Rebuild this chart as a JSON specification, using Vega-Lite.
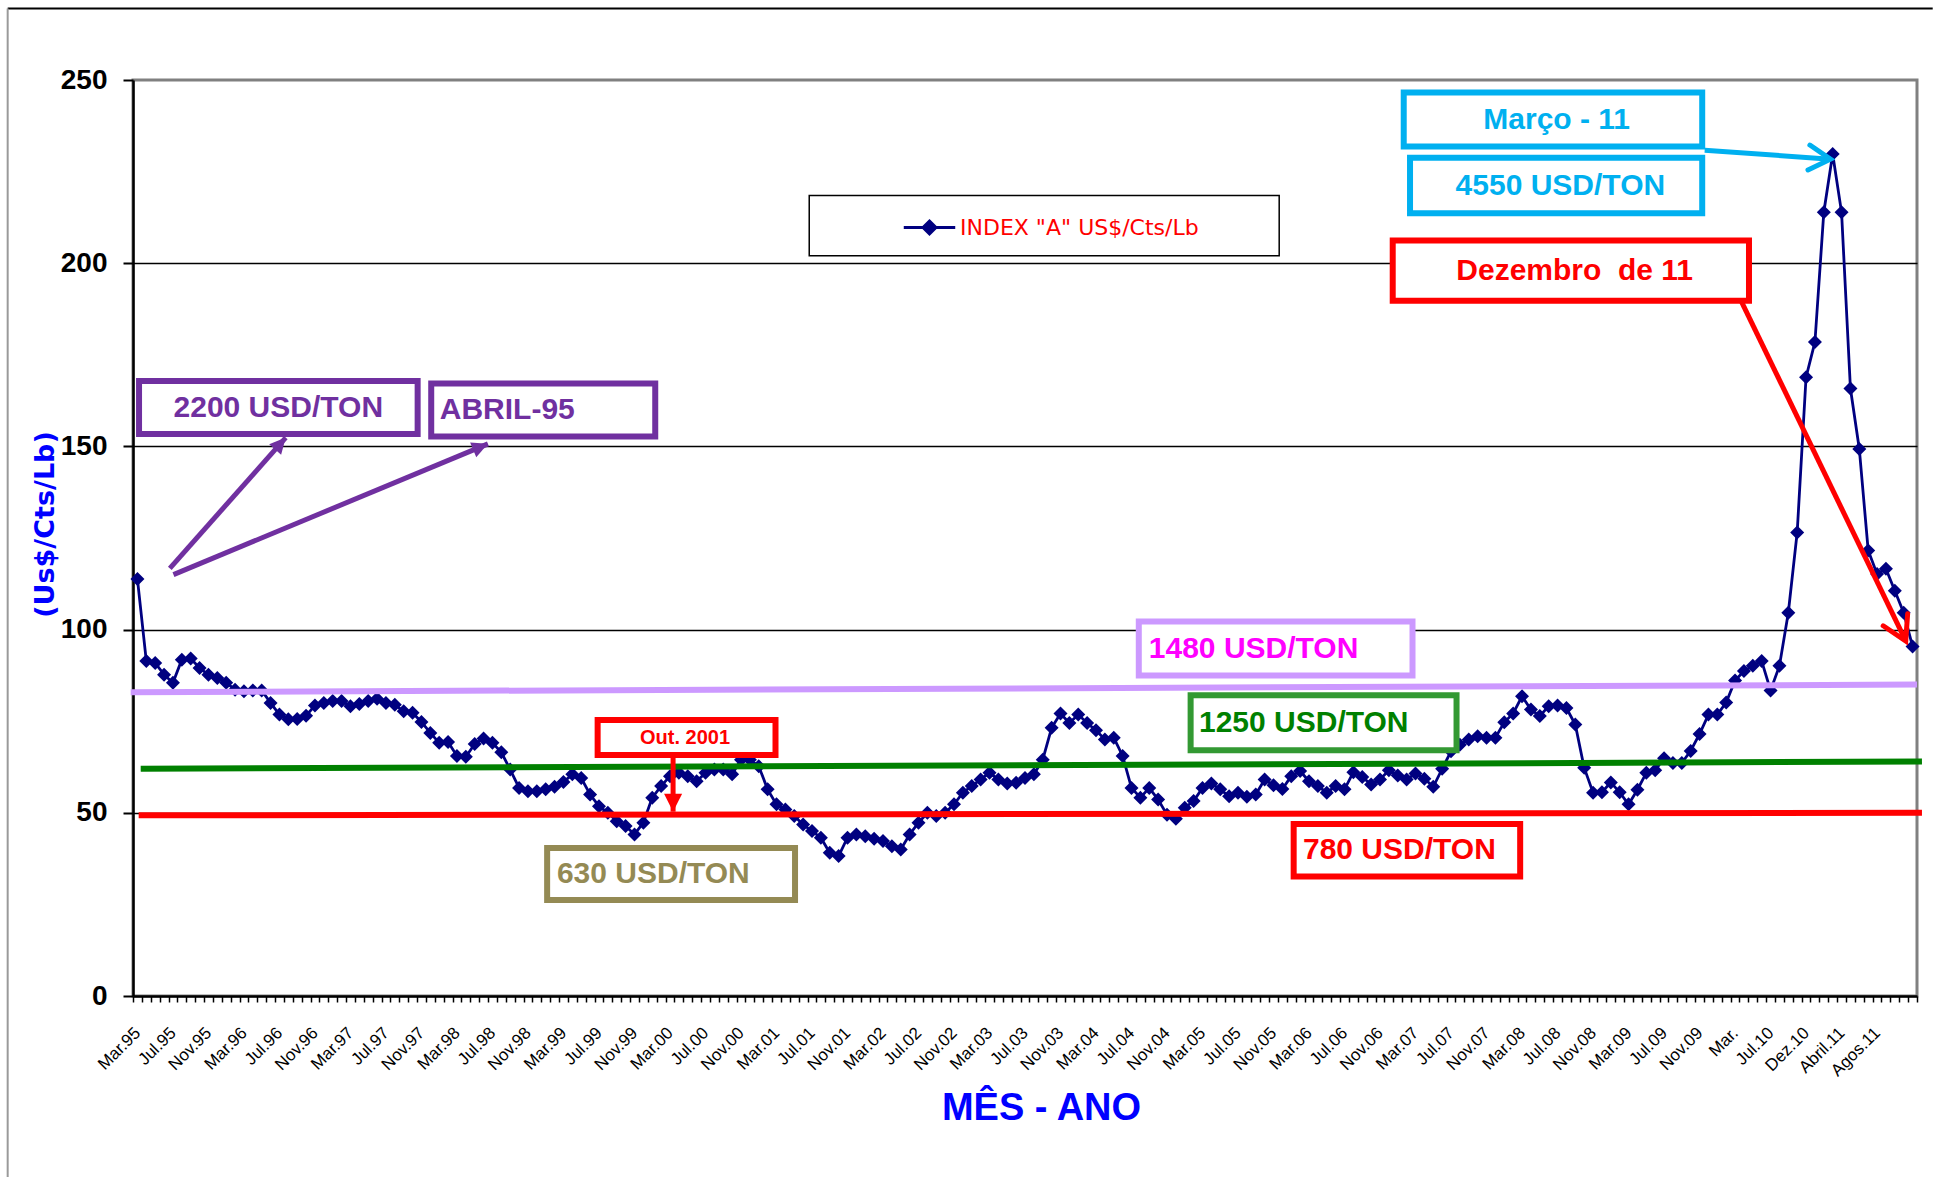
{
  "$schema": "https://vega.github.io/schema/vega-lite/v6.json",
  "width": 1784,
  "height": 916,
  "autosize": "none",
  "padding": {"left": 133, "top": 80, "right": 16, "bottom": 181},
  "background": "white",
  "config": {
    "view": {"stroke": "#808080", "strokeWidth": 3},
    "font": "Liberation Sans"
  },
  "datasets": {
    "algodao": [
      {"i":0,"mes":"Mar.95","v":113.8},{"i":1,"mes":"Abr.95","v":91.4},{"i":2,"mes":"Mai.95","v":90.9},{"i":3,"mes":"Jun.95","v":87.7},
      {"i":4,"mes":"Jul.95","v":85.5},{"i":5,"mes":"Ago.95","v":91.8},{"i":6,"mes":"Set.95","v":92.1},{"i":7,"mes":"Out.95","v":89.5},
      {"i":8,"mes":"Nov.95","v":87.7},{"i":9,"mes":"Dez.95","v":86.8},{"i":10,"mes":"Jan.96","v":85.5},{"i":11,"mes":"Fev.96","v":83.6},
      {"i":12,"mes":"Mar.96","v":83.2},{"i":13,"mes":"Abr.96","v":83.4},{"i":14,"mes":"Mai.96","v":83.4},{"i":15,"mes":"Jun.96","v":80.0},
      {"i":16,"mes":"Jul.96","v":76.8},{"i":17,"mes":"Ago.96","v":75.5},{"i":18,"mes":"Set.96","v":75.6},{"i":19,"mes":"Out.96","v":76.5},
      {"i":20,"mes":"Nov.96","v":79.3},{"i":21,"mes":"Dez.96","v":80.0},{"i":22,"mes":"Jan.97","v":80.5},{"i":23,"mes":"Fev.97","v":80.5},
      {"i":24,"mes":"Mar.97","v":79.1},{"i":25,"mes":"Abr.97","v":79.7},{"i":26,"mes":"Mai.97","v":80.5},{"i":27,"mes":"Jun.97","v":81.1},
      {"i":28,"mes":"Jul.97","v":80.0},{"i":29,"mes":"Ago.97","v":79.5},{"i":30,"mes":"Set.97","v":77.7},{"i":31,"mes":"Out.97","v":77.3},
      {"i":32,"mes":"Nov.97","v":74.8},{"i":33,"mes":"Dez.97","v":71.8},{"i":34,"mes":"Jan.98","v":69.1},{"i":35,"mes":"Fev.98","v":69.3},
      {"i":36,"mes":"Mar.98","v":65.5},{"i":37,"mes":"Abr.98","v":65.3},{"i":38,"mes":"Mai.98","v":68.8},{"i":39,"mes":"Jun.98","v":70.3},
      {"i":40,"mes":"Jul.98","v":69.1},{"i":41,"mes":"Ago.98","v":66.5},{"i":42,"mes":"Set.98","v":61.8},{"i":43,"mes":"Out.98","v":56.8},
      {"i":44,"mes":"Nov.98","v":55.9},{"i":45,"mes":"Dez.98","v":55.9},{"i":46,"mes":"Jan.99","v":56.4},{"i":47,"mes":"Fev.99","v":57.1},
      {"i":48,"mes":"Mar.99","v":58.4},{"i":49,"mes":"Abr.99","v":60.5},{"i":50,"mes":"Mai.99","v":59.5},{"i":51,"mes":"Jun.99","v":55.0},
      {"i":52,"mes":"Jul.99","v":51.8},{"i":53,"mes":"Ago.99","v":50.0},{"i":54,"mes":"Set.99","v":47.7},{"i":55,"mes":"Out.99","v":46.4},
      {"i":56,"mes":"Nov.99","v":44.1},{"i":57,"mes":"Dez.99","v":47.3},{"i":58,"mes":"Jan.00","v":54.1},{"i":59,"mes":"Fev.00","v":57.3},
      {"i":60,"mes":"Mar.00","v":60.0},{"i":61,"mes":"Abr.00","v":60.9},{"i":62,"mes":"Mai.00","v":60.0},{"i":63,"mes":"Jun.00","v":58.6},
      {"i":64,"mes":"Jul.00","v":60.9},{"i":65,"mes":"Ago.00","v":61.8},{"i":66,"mes":"Set.00","v":61.8},{"i":67,"mes":"Out.00","v":60.5},
      {"i":68,"mes":"Nov.00","v":64.5},{"i":69,"mes":"Dez.00","v":64.5},{"i":70,"mes":"Jan.01","v":62.7},{"i":71,"mes":"Fev.01","v":56.4},
      {"i":72,"mes":"Mar.01","v":52.3},{"i":73,"mes":"Abr.01","v":50.9},{"i":74,"mes":"Mai.01","v":49.1},{"i":75,"mes":"Jun.01","v":46.8},
      {"i":76,"mes":"Jul.01","v":45.0},{"i":77,"mes":"Ago.01","v":43.2},{"i":78,"mes":"Set.01","v":39.1},{"i":79,"mes":"Out.01","v":38.2},
      {"i":80,"mes":"Nov.01","v":43.2},{"i":81,"mes":"Dez.01","v":44.1},{"i":82,"mes":"Jan.02","v":43.6},{"i":83,"mes":"Fev.02","v":42.9},
      {"i":84,"mes":"Mar.02","v":42.3},{"i":85,"mes":"Abr.02","v":40.9},{"i":86,"mes":"Mai.02","v":40.0},{"i":87,"mes":"Jun.02","v":44.1},
      {"i":88,"mes":"Jul.02","v":47.3},{"i":89,"mes":"Ago.02","v":50.0},{"i":90,"mes":"Set.02","v":49.1},{"i":91,"mes":"Out.02","v":50.0},
      {"i":92,"mes":"Nov.02","v":52.3},{"i":93,"mes":"Dez.02","v":55.5},{"i":94,"mes":"Jan.03","v":57.3},{"i":95,"mes":"Fev.03","v":59.1},
      {"i":96,"mes":"Mar.03","v":60.9},{"i":97,"mes":"Abr.03","v":59.1},{"i":98,"mes":"Mai.03","v":58.0},{"i":99,"mes":"Jun.03","v":58.2},
      {"i":100,"mes":"Jul.03","v":59.5},{"i":101,"mes":"Ago.03","v":60.5},{"i":102,"mes":"Set.03","v":64.5},{"i":103,"mes":"Out.03","v":73.2},
      {"i":104,"mes":"Nov.03","v":77.1},{"i":105,"mes":"Dez.03","v":74.5},{"i":106,"mes":"Jan.04","v":76.8},{"i":107,"mes":"Fev.04","v":74.5},
      {"i":108,"mes":"Mar.04","v":72.5},{"i":109,"mes":"Abr.04","v":70.0},{"i":110,"mes":"Mai.04","v":70.5},{"i":111,"mes":"Jun.04","v":65.5},
      {"i":112,"mes":"Jul.04","v":56.8},{"i":113,"mes":"Ago.04","v":54.1},{"i":114,"mes":"Set.04","v":56.8},{"i":115,"mes":"Out.04","v":53.6},
      {"i":116,"mes":"Nov.04","v":49.5},{"i":117,"mes":"Dez.04","v":48.4},{"i":118,"mes":"Jan.05","v":51.4},{"i":119,"mes":"Fev.05","v":53.2},
      {"i":120,"mes":"Mar.05","v":56.8},{"i":121,"mes":"Abr.05","v":58.0},{"i":122,"mes":"Mai.05","v":56.4},{"i":123,"mes":"Jun.05","v":54.5},
      {"i":124,"mes":"Jul.05","v":55.5},{"i":125,"mes":"Ago.05","v":54.4},{"i":126,"mes":"Set.05","v":55.0},{"i":127,"mes":"Out.05","v":59.1},
      {"i":128,"mes":"Nov.05","v":57.5},{"i":129,"mes":"Dez.05","v":56.5},{"i":130,"mes":"Jan.06","v":60.0},{"i":131,"mes":"Fev.06","v":61.4},
      {"i":132,"mes":"Mar.06","v":58.6},{"i":133,"mes":"Abr.06","v":57.3},{"i":134,"mes":"Mai.06","v":55.5},{"i":135,"mes":"Jun.06","v":57.3},
      {"i":136,"mes":"Jul.06","v":56.4},{"i":137,"mes":"Ago.06","v":61.1},{"i":138,"mes":"Set.06","v":59.8},{"i":139,"mes":"Out.06","v":57.7},
      {"i":140,"mes":"Nov.06","v":59.1},{"i":141,"mes":"Dez.06","v":61.6},{"i":142,"mes":"Jan.07","v":60.2},{"i":143,"mes":"Fev.07","v":59.1},
      {"i":144,"mes":"Mar.07","v":60.7},{"i":145,"mes":"Abr.07","v":59.3},{"i":146,"mes":"Mai.07","v":57.1},{"i":147,"mes":"Jun.07","v":62.0},
      {"i":148,"mes":"Jul.07","v":66.8},{"i":149,"mes":"Ago.07","v":68.6},{"i":150,"mes":"Set.07","v":70.0},{"i":151,"mes":"Out.07","v":70.9},
      {"i":152,"mes":"Nov.07","v":70.5},{"i":153,"mes":"Dez.07","v":70.5},{"i":154,"mes":"Jan.08","v":74.7},{"i":155,"mes":"Fev.08","v":77.1},
      {"i":156,"mes":"Mar.08","v":81.8},{"i":157,"mes":"Abr.08","v":78.2},{"i":158,"mes":"Mai.08","v":76.4},{"i":159,"mes":"Jun.08","v":79.1},
      {"i":160,"mes":"Jul.08","v":79.3},{"i":161,"mes":"Ago.08","v":78.6},{"i":162,"mes":"Set.08","v":74.1},{"i":163,"mes":"Out.08","v":62.3},
      {"i":164,"mes":"Nov.08","v":55.5},{"i":165,"mes":"Dez.08","v":55.6},{"i":166,"mes":"Jan.09","v":58.3},{"i":167,"mes":"Fev.09","v":55.6},
      {"i":168,"mes":"Mar.09","v":52.3},{"i":169,"mes":"Abr.09","v":56.3},{"i":170,"mes":"Mai.09","v":60.9},{"i":171,"mes":"Jun.09","v":61.6},
      {"i":172,"mes":"Jul.09","v":64.9},{"i":173,"mes":"Ago.09","v":63.6},{"i":174,"mes":"Set.09","v":63.6},{"i":175,"mes":"Out.09","v":66.9},
      {"i":176,"mes":"Nov.09","v":71.5},{"i":177,"mes":"Dez.09","v":76.8},{"i":178,"mes":"Jan.10","v":76.8},{"i":179,"mes":"Fev.10","v":80.1},
      {"i":180,"mes":"Mar.10","v":86.1},{"i":181,"mes":"Abr.10","v":88.7},{"i":182,"mes":"Mai.10","v":90.1},{"i":183,"mes":"Jun.10","v":91.4},
      {"i":184,"mes":"Jul.10","v":83.4},{"i":185,"mes":"Ago.10","v":90.1},{"i":186,"mes":"Set.10","v":104.6},{"i":187,"mes":"Out.10","v":126.5},
      {"i":188,"mes":"Dez.10","v":168.9},{"i":189,"mes":"Jan.11","v":178.5},{"i":190,"mes":"Fev.11","v":213.9},{"i":191,"mes":"Mar.11","v":229.8},
      {"i":192,"mes":"Abr.11","v":213.9},{"i":193,"mes":"Mai.11","v":165.8},{"i":194,"mes":"Jun.11","v":149.3},{"i":195,"mes":"Jul.11","v":121.6},
      {"i":196,"mes":"Ago.11","v":115.2},{"i":197,"mes":"Set.11","v":116.6},{"i":198,"mes":"Out.11","v":110.6},{"i":199,"mes":"Nov.11","v":104.6},
      {"i":200,"mes":"Dez.11","v":95.4}
    ],
    "niveis": [
      {"nivel":"1480 USD/TON","x0":-0.76,"x1":200.5,"y0":82.9,"y1":85.0},
      {"nivel":"1250 USD/TON","x0":0.37,"x1":201.06,"y0":62.0,"y1":64.0},
      {"nivel":"780 USD/TON","x0":0.14,"x1":201.06,"y0":49.3,"y1":50.0}
    ],
    "caixas": [
      {"cor":"roxo","x0":0.18,"x1":31.57,"y0":167.85,"y1":153.38},
      {"cor":"roxo","x0":33.1,"x1":58.34,"y0":167.17,"y1":152.7},
      {"cor":"ciano","x0":142.67,"x1":176.3,"y0":246.6,"y1":231.85},
      {"cor":"ciano","x0":143.38,"x1":176.3,"y0":228.77,"y1":213.65},
      {"cor":"vermelho","x0":141.43,"x1":181.57,"y0":206.2,"y1":189.74},
      {"cor":"lilas","x0":112.82,"x1":143.66,"y0":102.24,"y1":87.47},
      {"cor":"verde","x0":118.66,"x1":148.62,"y0":82.1,"y1":67.09},
      {"cor":"vermelho","x0":130.27,"x1":155.79,"y0":46.94,"y1":32.61},
      {"cor":"oliva","x0":46.16,"x1":74.09,"y0":40.39,"y1":26.2},
      {"cor":"vermelho","x0":51.85,"x1":71.89,"y0":75.33,"y1":65.78}
    ],
    "textos_centro": [
      {"txt":"2200 USD/TON","cor":"roxo","x":15.87,"y":160.6},
      {"txt":"Março - 11","cor":"ciano","x":159.9,"y":239.2},
      {"txt":"4550 USD/TON","cor":"ciano","x":160.32,"y":221.2},
      {"txt":"Dezembro\u00a0\u00a0de 11","cor":"vermelho","x":161.93,"y":198.0}
    ],
    "textos_esquerda": [
      {"txt":"ABRIL-95","cor":"roxo","x":34.06,"y":159.93},
      {"txt":"1480 USD/TON","cor":"lilas","x":113.95,"y":94.84},
      {"txt":"1250 USD/TON","cor":"verde","x":119.6,"y":74.6},
      {"txt":"780 USD/TON","cor":"vermelho","x":131.32,"y":39.85},
      {"txt":"630 USD/TON","cor":"oliva","x":47.26,"y":33.3}
    ],
    "setas": [
      {"cor":"roxo","x0":3.65,"x1":16.71,"y0":116.7,"y1":152.4},
      {"cor":"roxo","x0":4.06,"x1":39.49,"y0":115.0,"y1":150.7},
      {"cor":"ciano","x0":176.58,"x1":190.75,"y0":230.8,"y1":228.4},
      {"cor":"vermelho","x0":180.75,"x1":199.23,"y0":189.4,"y1":96.9},
      {"cor":"vermelho","x0":60.35,"x1":60.35,"y0":65.3,"y1":50.3}
    ]
  },
  "layer": [
    {
      "data": {"name": "algodao"},
      "mark": {"type": "line", "strokeWidth": 2.8,
        "point": {"shape": "diamond", "size": 196, "filled": true, "opacity": 1}},
      "encoding": {
        "x": {"field": "i", "type": "quantitative",
          "scale": {"domain": [-0.5, 200.5], "nice": false, "zero": false},
          "axis": {
            "values": [-0.5,0.5,1.5,2.5,3.5,4.5,5.5,6.5,7.5,8.5,9.5,10.5,11.5,12.5,13.5,14.5,15.5,16.5,17.5,18.5,19.5,20.5,21.5,22.5,23.5,24.5,25.5,26.5,27.5,28.5,29.5,30.5,31.5,32.5,33.5,34.5,35.5,36.5,37.5,38.5,39.5,40.5,41.5,42.5,43.5,44.5,45.5,46.5,47.5,48.5,49.5,50.5,51.5,52.5,53.5,54.5,55.5,56.5,57.5,58.5,59.5,60.5,61.5,62.5,63.5,64.5,65.5,66.5,67.5,68.5,69.5,70.5,71.5,72.5,73.5,74.5,75.5,76.5,77.5,78.5,79.5,80.5,81.5,82.5,83.5,84.5,85.5,86.5,87.5,88.5,89.5,90.5,91.5,92.5,93.5,94.5,95.5,96.5,97.5,98.5,99.5,100.5,101.5,102.5,103.5,104.5,105.5,106.5,107.5,108.5,109.5,110.5,111.5,112.5,113.5,114.5,115.5,116.5,117.5,118.5,119.5,120.5,121.5,122.5,123.5,124.5,125.5,126.5,127.5,128.5,129.5,130.5,131.5,132.5,133.5,134.5,135.5,136.5,137.5,138.5,139.5,140.5,141.5,142.5,143.5,144.5,145.5,146.5,147.5,148.5,149.5,150.5,151.5,152.5,153.5,154.5,155.5,156.5,157.5,158.5,159.5,160.5,161.5,162.5,163.5,164.5,165.5,166.5,167.5,168.5,169.5,170.5,171.5,172.5,173.5,174.5,175.5,176.5,177.5,178.5,179.5,180.5,181.5,182.5,183.5,184.5,185.5,186.5,187.5,188.5,189.5,190.5,191.5,192.5,193.5,194.5,195.5,196.5,197.5,198.5,199.5,200.5,
              0,4,8,12,16,20,24,28,32,36,40,44,48,52,56,60,64,68,72,76,80,84,88,92,96,100,104,108,112,116,120,124,128,132,136,140,144,148,152,156,160,164,168,172,176,180,184,188,192,196],
            "tickCount": 400,
            "labelExpr": "datum.value % 4 == 0 ? ['Mar.95','Jul.95','Nov.95','Mar.96','Jul.96','Nov.96','Mar.97','Jul.97','Nov.97','Mar.98','Jul.98','Nov.98','Mar.99','Jul.99','Nov.99','Mar.00','Jul.00','Nov.00','Mar.01','Jul.01','Nov.01','Mar.02','Jul.02','Nov.02','Mar.03','Jul.03','Nov.03','Mar.04','Jul.04','Nov.04','Mar.05','Jul.05','Nov.05','Mar.06','Jul.06','Nov.06','Mar.07','Jul.07','Nov.07','Mar.08','Jul.08','Nov.08','Mar.09','Jul.09','Nov.09','Mar.','Jul.10','Dez.10','Abril.11','Agos.11'][datum.value / 4] : ''",
            "labelAngle": -45,
            "labelAlign": "right",
            "labelBaseline": "middle",
            "labelPadding": 28,
            "labelFont": "Liberation Sans",
            "labelFontSize": 17,
            "labelColor": "#000000",
            "labelOverlap": false,
            "labelFlush": false,
            "labelBound": false,
            "tickSize": 6,
            "tickWidth": 1.5,
            "tickColor": "#000000",
            "tickOpacity": {"condition": {"test": "datum.value % 4 == 0", "value": 0}, "value": 1},
            "domainColor": "#000000",
            "domainWidth": 2.5,
            "grid": false,
            "title": "MÊS - ANO",
            "titleFont": "Liberation Sans",
            "titleFontSize": 38,
            "titleFontWeight": "bold",
            "titleColor": "#0000FF",
            "titleX": 908,
            "titleY": 123,
            "titleAlign": "center",
            "titleBaseline": "alphabetic"
          }
        },
        "y": {"field": "v", "type": "quantitative",
          "scale": {"domain": [0, 250], "nice": false},
          "axis": {
            "values": [0, 50, 100, 150, 200, 250],
            "labelFont": "Liberation Sans",
            "labelFontSize": 28,
            "labelFontWeight": "bold",
            "labelColor": "#000000",
            "labelPadding": 16,
            "tickSize": 10,
            "tickWidth": 2,
            "tickColor": "#000000",
            "domainColor": "#000000",
            "domainWidth": 2.5,
            "grid": true,
            "gridColor": {"condition": {"test": "datum.value == 0 || datum.value == 250", "value": "transparent"}, "value": "#000000"},
            "gridWidth": 1.5,
            "title": "(Us$/Cts/Lb)",
            "titleFont": "Comic Sans MS, DejaVu Sans",
            "titleFontSize": 27,
            "titleFontWeight": "bold",
            "titleColor": "#0000FF",
            "titleAngle": -90,
            "titleX": -88,
            "titleY": 444,
            "titleAlign": "center",
            "titleBaseline": "middle"
          }
        },
        "color": {
          "datum": "INDEX \"A\" US$/Cts/Lb",
          "scale": {"range": ["#000080"]},
          "legend": {
            "orient": "none",
            "legendX": 769,
            "legendY": 120,
            "title": null,
            "padding": 0,
            "symbolType": "M-1,0L1,0M0,-0.25L0.25,0L0,0.25L-0.25,0Z",
            "symbolSize": 2650,
            "symbolStrokeWidth": 3,
            "symbolFillColor": "#000080",
            "symbolStrokeColor": "#000080",
            "labelColor": "#FF0000",
            "labelFont": "Comic Sans MS, DejaVu Sans",
            "labelFontSize": 22,
            "labelOffset": 3,
            "labelLimit": 400,
            "encode": {"symbols": {"update": {"fill": {"value": "#000080"}, "stroke": {"value": "#000080"}, "opacity": {"value": 1}}}}
          }
        }
      }
    },
    {
      "description": "outer frame of the chart object",
      "data": {"values": [
        {"lado":"topo","x0":-14.62,"x1":202.27,"y0":269.5,"y1":269.5},
        {"lado":"esquerda","x0":-14.62,"x1":-14.62,"y0":269.5,"y1":-49.4}
      ]},
      "mark": {"type": "rule", "strokeWidth": 2},
      "encoding": {
        "x": {"field": "x0", "type": "quantitative"},
        "x2": {"field": "x1"},
        "y": {"field": "y0", "type": "quantitative"},
        "y2": {"field": "y1"},
        "stroke": {"field": "lado", "type": "nominal", "legend": null,
          "scale": {"domain": ["topo", "esquerda"], "range": ["#000000", "#9a9a9a"]}}
      }
    },
    {
      "data": {"name": "niveis"},
      "mark": {"type": "rule", "strokeWidth": 6, "strokeCap": "butt"},
      "encoding": {
        "x": {"field": "x0", "type": "quantitative"},
        "x2": {"field": "x1"},
        "y": {"field": "y0", "type": "quantitative"},
        "y2": {"field": "y1"},
        "stroke": {"field": "nivel", "type": "nominal", "legend": null,
          "scale": {"domain": ["1480 USD/TON", "1250 USD/TON", "780 USD/TON"], "range": ["#CC99FF", "#008000", "#FF0000"]}}
      }
    },
    {
      "data": {"name": "caixas"},
      "mark": {"type": "rect", "fill": "#FFFFFF", "strokeWidth": 6, "strokeJoin": "miter"},
      "encoding": {
        "x": {"field": "x0", "type": "quantitative"},
        "x2": {"field": "x1"},
        "y": {"field": "y0", "type": "quantitative"},
        "y2": {"field": "y1"},
        "stroke": {"field": "cor", "type": "nominal", "legend": null,
          "scale": {"domain": ["roxo", "ciano", "vermelho", "lilas", "verde", "oliva"], "range": ["#7030A0", "#00B0F0", "#FF0000", "#CC99FF", "#339933", "#948A54"]}}
      }
    },
    {
      "description": "frame around the series legend",
      "data": {"values": [{"x0": 75.69, "x1": 128.64, "y0": 218.48, "y1": 202.02}]},
      "mark": {"type": "rect", "fill": "#FFFFFF", "stroke": "#000000", "strokeWidth": 1.5},
      "encoding": {
        "x": {"field": "x0", "type": "quantitative"},
        "x2": {"field": "x1"},
        "y": {"field": "y0", "type": "quantitative"},
        "y2": {"field": "y1"}
      }
    },
    {
      "data": {"name": "textos_centro"},
      "mark": {"type": "text", "align": "center", "baseline": "middle", "font": "Liberation Sans", "fontSize": 30, "fontWeight": "bold"},
      "encoding": {
        "x": {"field": "x", "type": "quantitative"},
        "y": {"field": "y", "type": "quantitative"},
        "text": {"field": "txt"},
        "fill": {"field": "cor", "type": "nominal", "legend": null,
          "scale": {"domain": ["roxo", "ciano", "vermelho", "lilas", "verde", "oliva"], "range": ["#7030A0", "#00B0F0", "#FF0000", "#FF00FF", "#008000", "#948A54"]}}
      }
    },
    {
      "data": {"name": "textos_esquerda"},
      "mark": {"type": "text", "align": "left", "baseline": "middle", "font": "Liberation Sans", "fontSize": 30, "fontWeight": "bold"},
      "encoding": {
        "x": {"field": "x", "type": "quantitative"},
        "y": {"field": "y", "type": "quantitative"},
        "text": {"field": "txt"},
        "fill": {"field": "cor", "type": "nominal", "legend": null,
          "scale": {"domain": ["roxo", "ciano", "vermelho", "lilas", "verde", "oliva"], "range": ["#7030A0", "#00B0F0", "#FF0000", "#FF00FF", "#008000", "#948A54"]}}
      }
    },
    {
      "data": {"values": [{"txt": "Out. 2001", "x": 61.7, "y": 70.4}]},
      "mark": {"type": "text", "align": "center", "baseline": "middle", "font": "Liberation Sans", "fontSize": 20, "fontWeight": "bold", "color": "#FF0000"},
      "encoding": {
        "x": {"field": "x", "type": "quantitative"},
        "y": {"field": "y", "type": "quantitative"},
        "text": {"field": "txt"}
      }
    },
    {
      "data": {"name": "setas"},
      "mark": {"type": "rule", "strokeWidth": 5, "strokeCap": "butt"},
      "encoding": {
        "x": {"field": "x0", "type": "quantitative"},
        "x2": {"field": "x1"},
        "y": {"field": "y0", "type": "quantitative"},
        "y2": {"field": "y1"},
        "stroke": {"field": "cor", "type": "nominal", "legend": null,
          "scale": {"domain": ["roxo", "ciano", "vermelho"], "range": ["#7030A0", "#00B0F0", "#FF0000"]}}
      }
    },
    {
      "data": {"values": [{"x": 16.71, "y": 152.4}]},
      "mark": {"type": "point", "shape": "M0,0L0.55,1.1L-0.55,1.1Z", "size": 841, "angle": 41.6, "filled": true, "color": "#7030A0", "opacity": 1},
      "encoding": {
        "x": {"field": "x", "type": "quantitative"},
        "y": {"field": "y", "type": "quantitative"}
      }
    },
    {
      "data": {"values": [{"x": 39.49, "y": 150.7}]},
      "mark": {"type": "point", "shape": "M0,0L0.55,1.1L-0.55,1.1Z", "size": 841, "angle": 67.4, "filled": true, "color": "#7030A0", "opacity": 1},
      "encoding": {
        "x": {"field": "x", "type": "quantitative"},
        "y": {"field": "y", "type": "quantitative"}
      }
    },
    {
      "data": {"values": [{"x": 60.35, "y": 50.3}]},
      "mark": {"type": "point", "shape": "M0,0L0.55,1.1L-0.55,1.1Z", "size": 1076, "angle": 180, "filled": true, "color": "#FF0000", "opacity": 1},
      "encoding": {
        "x": {"field": "x", "type": "quantitative"},
        "y": {"field": "y", "type": "quantitative"}
      }
    },
    {
      "data": {"values": [{"x": 190.75, "y": 228.4}]},
      "mark": {"type": "point", "shape": "M-0.78,1.35L0,0L0.78,1.35", "size": 1024, "angle": 94.4, "filled": false, "color": "#00B0F0", "strokeWidth": 5, "strokeCap": "round", "opacity": 1},
      "encoding": {
        "x": {"field": "x", "type": "quantitative"},
        "y": {"field": "y", "type": "quantitative"}
      }
    },
    {
      "data": {"values": [{"x": 199.23, "y": 96.9}]},
      "mark": {"type": "point", "shape": "M-0.85,1.47L0,0L0.85,1.47", "size": 1024, "angle": 154, "filled": false, "color": "#FF0000", "strokeWidth": 5, "strokeCap": "round", "opacity": 1},
      "encoding": {
        "x": {"field": "x", "type": "quantitative"},
        "y": {"field": "y", "type": "quantitative"}
      }
    }
  ],
  "resolve": {"scale": {"stroke": "independent", "fill": "independent"}}
}
